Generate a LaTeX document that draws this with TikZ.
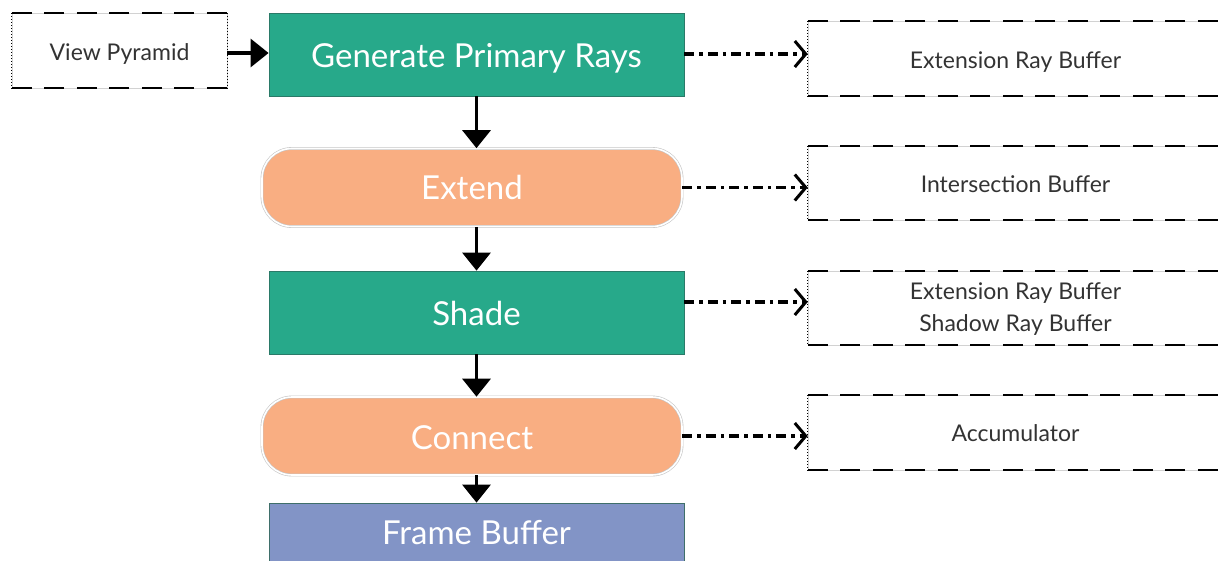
\documentclass[tikz,border=0pt]{standalone}
\usepackage{fontspec}
\setmainfont{Lato}
\usetikzlibrary{arrows.meta}
\definecolor{teal1}{HTML}{27A98A}
\definecolor{tealedge}{HTML}{2A7A68}
\definecolor{peach}{HTML}{F9AE82}
\definecolor{lav}{HTML}{8294C6}
\definecolor{lavedge}{HTML}{3F6F6A}
\definecolor{txt}{HTML}{333333}
\newcommand{\lowr}[2]{\raisebox{-#1}[\height][\depth]{#2}}
\tikzset{
  procbox/.style={draw=tealedge, line width=0.8pt, fill=teal1, text=white, font=\fontsize{33}{36}\selectfont, minimum width=415pt, minimum height=83pt, inner sep=0pt},
  roundbox/.style={draw=gray!45, double=white, double distance=1.6pt, line width=0.6pt, fill=peach, text=white, rounded corners=30pt, font=\fontsize{33}{36}\selectfont, minimum width=420pt, minimum height=78pt, inner sep=0pt},
  framebox/.style={draw=lavedge, line width=0.8pt, fill=lav, text=white, font=\fontsize{33}{36}\selectfont, minimum width=415pt, minimum height=60pt, inner sep=0pt},
  databox/.style={draw=gray!35, line width=0.5pt, text=txt, font=\fontsize{23}{31}\selectfont, align=center, inner sep=0pt},
  solidarrow/.style={line width=3.2pt, -{Triangle[length=18pt,width=28pt]}},
  dasharrow/.style={line width=3.2pt, dash pattern=on 10pt off 5pt on 3.5pt off 5pt, -{Straight Barb[length=11pt,width=26pt,line width=3pt]}},
  dashedge/.style={line width=1.7pt, dash pattern=on 20pt off 12.5pt},
  dotedge/.style={line width=1.1pt, dash pattern=on 1.5pt off 1.5pt}
}
\begin{document}
\begin{tikzpicture}[x=1pt,y=1pt]
\useasboundingbox (0,0) rectangle (1218,-560);
\clip (0,0) rectangle (1218,-560);
\fill[white] (0,0) rectangle (1218,-560);
% main column
\node[procbox] (gen) at (476.5,-54.5) {\lowr{4pt}{Generate Primary Rays}};
\node[roundbox] (ext) at (472,-187.5) {Extend};
\node[procbox] (sha) at (476.5,-312.5) {\lowr{1pt}{Shade}};
\node[roundbox] (con) at (472,-436) {\lowr{2pt}{Connect}};
\node[framebox] (fb) at (476.5,-533) {Frame Buffer};
% data boxes
\node[databox, minimum width=215pt, minimum height=75pt] (vp) at (119.5,-50.5) {\lowr{3pt}{View Pyramid}};
\node[databox, minimum width=415pt, minimum height=75pt] (r1) at (1015.5,-58.5) {\lowr{4pt}{Extension Ray Buffer}};
\node[databox, minimum width=415pt, minimum height=74pt] (r2) at (1015.5,-183) {\lowr{1pt}{Intersection Buffer}};
\node[databox, minimum width=415pt, minimum height=74pt] (r3) at (1015.5,-308) {\lowr{1pt}{\shortstack{Extension Ray Buffer\\[8pt]Shadow Ray Buffer}}};
\node[databox, minimum width=415pt, minimum height=75pt] (r4) at (1015.5,-432.5) {\lowr{1pt}{Accumulator}};
% dashed edges of data boxes
\foreach \b in {vp,r1,r2,r3,r4}{
  \draw[dashedge] (\b.north west) -- (\b.north east);
  \draw[dashedge] (\b.south west) -- (\b.south east);
  \draw[dotedge] (\b.north west) -- (\b.south west);
  \draw[dotedge] (\b.north east) -- (\b.south east);
}
% arrows
\draw[solidarrow] (vp.east |- 0,-53) -- (gen.west |- 0,-53);
\draw[solidarrow] (gen.south) -- (gen.south |- ext.north);
\draw[solidarrow] (ext.south -| gen.south) -- (sha.north);
\draw[solidarrow] (sha.south) -- (sha.south |- con.north);
\draw[solidarrow] (con.south -| sha.south) -- (fb.north);
\draw[dasharrow] (gen.east |- 0,-54) -- (r1.west |- 0,-54);
\draw[dasharrow] (ext.east) -- (ext.east -| r2.west);
\draw[dasharrow] (sha.east |- 0,-302) -- (r3.west |- 0,-302);
\draw[dasharrow] (con.east) -- (con.east -| r4.west);
\end{tikzpicture}
\end{document}
